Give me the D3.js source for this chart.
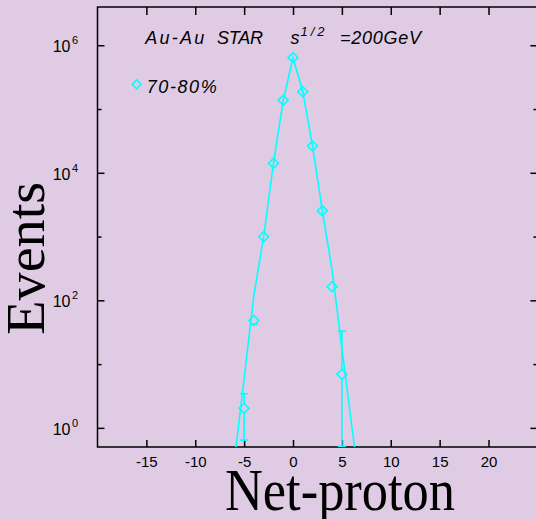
<!DOCTYPE html>
<html><head><meta charset="utf-8">
<script src="https://cdn.jsdelivr.net/npm/d3@7"></script>
<style>
html,body{margin:0;padding:0;background:#dfcce4;}
svg{display:block;}
</style></head>
<body><div id="chart"></div>
<script>
// ---- data ----
const netProton = [-5, -4, -3, -2, -1, 0, 1, 2, 3, 4, 5];
const events    = [2.03, 48.3, 996, 1.41e4, 1.37e5, 6.38e5, 1.87e5, 2.63e4, 2547, 164, 6.93];
const eventErr  = [1.4, 7, 31, 118, 370, 800, 432, 162, 50, 13, 26];
const curveX    = [-6, -5, -4, -3, -2, -1, 0, 1, 2, 3, 4, 5, 6, 7];
const curveY    = [0.30, 6.0, 121, 996, 1.41e4, 1.37e5, 6.38e5, 1.87e5, 2.63e4, 2547, 298, 17.9, 1.11, 0.069];
const xTicks    = [-15, -10, -5, 0, 5, 10, 15, 20];
const yMajor    = [1, 100, 1e4, 1e6];
const yMinor    = [10, 1000, 1e5];
const yExp      = ["0", "2", "4", "6"];
const legendLabel = "70-80%";

(function () {
const W = 536, H = 519;
const pTop = 7, pBottom = 447;
const cyan = "#00ffff";

const svg = d3.select("#chart").append("svg").attr("width", W).attr("height", H);
svg.append("rect").attr("width", W).attr("height", H).attr("fill", "#dfcce4");

const x = d3.scaleLinear().domain([-20, 25]).range([97.5, 537.4]);
const y = d3.scaleLog().domain([Math.pow(10, -0.3), Math.pow(10, 6.6)]).range([pBottom, pTop]);
const pLeft = x.range()[0], pRight = x.range()[1];

svg.append("defs").append("clipPath").attr("id", "clip")
  .append("rect").attr("x", pLeft).attr("y", pTop).attr("width", pRight - pLeft).attr("height", pBottom - pTop);

// axes (ticks inside)
const axB = svg.append("g").attr("transform", `translate(0,${pBottom})`)
  .call(d3.axisBottom(x).tickValues(xTicks).tickSizeInner(-7).tickSizeOuter(0).tickPadding(9)
        .tickFormat(d => String(d)));
const axT = svg.append("g").attr("transform", `translate(0,${pTop})`)
  .call(d3.axisTop(x).tickValues(xTicks).tickSizeInner(-8).tickSizeOuter(0).tickFormat(""));
const axL = svg.append("g").attr("transform", `translate(${pLeft},0)`)
  .call(d3.axisLeft(y).tickValues(yMajor).tickSizeInner(-7).tickSizeOuter(0).tickFormat(""));
const axL2 = svg.append("g").attr("transform", `translate(${pLeft},0)`)
  .call(d3.axisLeft(y).tickValues(yMinor).tickSizeInner(-4).tickSizeOuter(0).tickFormat(""));
const axR = svg.append("g").attr("transform", `translate(${pRight},0)`)
  .call(d3.axisRight(y).tickValues(yMajor).tickSizeInner(-7).tickSizeOuter(0).tickFormat(""));
const axR2 = svg.append("g").attr("transform", `translate(${pRight},0)`)
  .call(d3.axisRight(y).tickValues(yMinor).tickSizeInner(-4).tickSizeOuter(0).tickFormat(""));
[axB, axT, axL, axL2, axR, axR2].forEach(g => {
  g.select(".domain").remove();
  g.selectAll(".tick line").attr("stroke", "#000").attr("stroke-width", 1.5);
});
axB.selectAll(".tick text").attr("font-family", "Liberation Sans, Arial, sans-serif")
  .attr("font-size", 15).attr("fill", "#000");

// y labels 10^n
const yl = svg.append("g").attr("font-family", "Liberation Sans, Arial, sans-serif").attr("fill", "#000");
yMajor.forEach((v, i) => {
  yl.append("text").attr("x", 70.5).attr("y", y(v) + 7).attr("text-anchor", "end")
    .attr("font-size", 16).text("10");
  yl.append("text").attr("x", 72).attr("y", y(v) - 1).attr("font-size", 11).text(yExp[i]);
});

// frame
svg.append("rect").attr("x", pLeft).attr("y", pTop).attr("width", pRight - pLeft).attr("height", pBottom - pTop)
  .attr("fill", "none").attr("stroke", "#000").attr("stroke-width", 1.5);

// curve
const plot = svg.append("g").attr("clip-path", "url(#clip)");
plot.append("path").datum(curveX.map((d, i) => ({x: d, v: curveY[i]})))
  .attr("d", d3.line().x(d => x(d.x)).y(d => y(d.v)))
  .attr("fill", "none").attr("stroke", cyan).attr("stroke-width", 1.6);

// error bars
const half = 5;
const eb = plot.append("g");
netProton.forEach((px, i) => {
  const cx = x(px), cy = y(events[i]);
  const yU = y(events[i] + eventErr[i]);
  const lo = events[i] - eventErr[i];
  const yL = lo > y.domain()[0] ? y(lo) : pBottom;
  if (cy - yU >= 4) {
    if (yU < cy - half) eb.append("line").attr("x1", cx).attr("x2", cx).attr("y1", yU).attr("y2", cy - half);
    eb.append("line").attr("x1", cx - 4).attr("x2", cx + 4).attr("y1", yU).attr("y2", yU);
  }
  if (yL - cy >= 4) {
    if (yL > cy + half) eb.append("line").attr("x1", cx).attr("x2", cx).attr("y1", cy + half).attr("y2", yL);
    eb.append("line").attr("x1", cx - 4).attr("x2", cx + 4).attr("y1", yL - 0.5).attr("y2", yL - 0.5);
  }
});
eb.selectAll("line").attr("stroke", cyan).attr("stroke-width", 1.6);

// markers
const diamond = d3.symbol().type(d3.symbolSquare).size(50);
plot.selectAll("path.mk").data(netProton).join("path").attr("class", "mk")
  .attr("d", diamond)
  .attr("transform", (d, i) => `translate(${x(d)},${y(events[i])}) rotate(45)`)
  .attr("fill", "none").attr("stroke", cyan).attr("stroke-width", 1.6);

// title
const tf = "Liberation Sans, Arial, sans-serif";
const tg = svg.append("g").attr("font-family", tf).attr("font-style", "italic").attr("fill", "#000");
tg.append("text").attr("x", 145.3).attr("y", 43.5).attr("font-size", 18).attr("textLength", 59).attr("lengthAdjust", "spacing").text("Au-Au");
tg.append("text").attr("x", 217).attr("y", 43.5).attr("font-size", 18).attr("textLength", 46).attr("lengthAdjust", "spacing").text("STAR");
tg.append("text").attr("x", 290.6).attr("y", 43.5).attr("font-size", 18).text("s");
tg.append("text").attr("x", 300.5).attr("y", 35.5).attr("font-size", 13).attr("textLength", 24).attr("lengthAdjust", "spacing").text("1/2");
tg.append("text").attr("x", 340).attr("y", 43.5).attr("font-size", 18).attr("textLength", 81).attr("lengthAdjust", "spacing").text("=200GeV");

// legend
svg.append("path").attr("d", d3.symbol().type(d3.symbolSquare).size(40))
  .attr("transform", "translate(136.7,84.3) rotate(45)")
  .attr("fill", "none").attr("stroke", cyan).attr("stroke-width", 1.6);
tg.append("text").attr("x", 146.7).attr("y", 93.3).attr("font-size", 18).attr("textLength", 70).attr("lengthAdjust", "spacing").text(legendLabel);

// axis titles
svg.append("text").attr("transform", "translate(44.3,258.3) rotate(-90)")
  .attr("text-anchor", "middle").attr("font-family", "Liberation Serif, Times New Roman, serif")
  .attr("font-size", 55).attr("textLength", 153).attr("lengthAdjust", "spacingAndGlyphs").attr("fill", "#000").text("Events");
svg.append("text").attr("x", 340).attr("y", 510)
  .attr("text-anchor", "middle").attr("font-family", "Liberation Serif, Times New Roman, serif")
  .attr("font-size", 59).attr("textLength", 230).attr("lengthAdjust", "spacingAndGlyphs").attr("fill", "#000").text("Net-proton");
})();
</script></body></html>
